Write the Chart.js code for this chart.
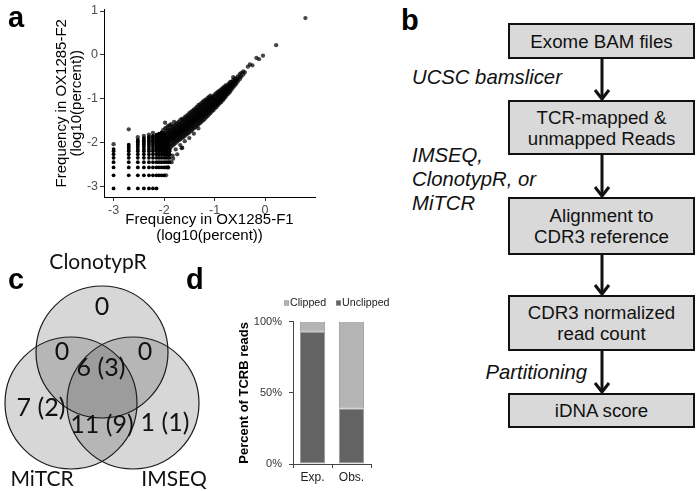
<!DOCTYPE html>
<html><head><meta charset="utf-8">
<script src="https://cdn.jsdelivr.net/npm/chart.js@4"></script>
<style>
html,body{margin:0;padding:0;background:#fff;width:697px;height:491px;overflow:hidden;font-family:"Liberation Sans",Arial,sans-serif;color:#111;}
canvas{position:absolute;}
.lbl{position:absolute;font-weight:bold;font-size:29px;line-height:1;color:#000;}
.box{position:absolute;box-sizing:border-box;border:2.5px solid #111;background:#d9d9d9;display:flex;align-items:center;justify-content:center;text-align:center;font-size:18.7px;line-height:21px;color:#111;}
.it{position:absolute;font-style:italic;font-size:20.3px;line-height:24px;color:#111;white-space:nowrap;}
</style></head>
<body>
<canvas id="ca" width="335" height="250" style="left:0;top:0"></canvas>
<canvas id="cc" width="230" height="241" style="left:0;top:250px"></canvas>
<canvas id="cd" width="200" height="241" style="left:200px;top:250px"></canvas>

<div class="lbl" style="left:8px;top:3px">a</div>
<div class="lbl" style="left:401px;top:6px">b</div>
<div class="lbl" style="left:8px;top:265px">c</div>
<div class="lbl" style="left:186px;top:265px">d</div>

<div id="flow"></div>
<svg style="position:absolute;left:390px;top:0" width="307" height="491">
  <g id="arrows" stroke="#111" stroke-width="3" fill="none" stroke-linecap="butt"></g>
</svg>

<script>
// ---------------- Panel a data (log10 percent) ----------------
const latticeF1 = [-3.00, -2.70, -2.52, -2.40, -2.30, -2.22, -2.15, -2.10, -2.05, -2.00, -1.96, -1.92, -1.89];
const latticeF2 = [
  [-3.05,-2.75,-2.57,-2.45,-2.35,-2.27,-2.20,-2.15],
  [-3.05,-2.75,-2.57,-2.45,-2.35,-2.27,-2.20,-2.15,-2.10,-2.05],
  [-3.05,-2.75,-2.57,-2.45,-2.35,-2.27,-2.20,-2.15,-2.10,-2.05,-2.01,-1.97,-1.94],
  [-3.05,-2.75,-2.57,-2.45,-2.35,-2.27,-2.20,-2.15,-2.10,-2.05,-2.01,-1.97,-1.94,-1.90],
  [-3.05,-2.75,-2.57,-2.45,-2.35,-2.27,-2.20,-2.15,-2.10,-2.05,-2.01,-1.97,-1.94,-1.90,-1.87],
  [-3.05,-2.75,-2.57,-2.45,-2.35,-2.27,-2.20,-2.15,-2.10,-2.05,-2.01,-1.97,-1.94,-1.90,-1.87,-1.85],
  [-3.05,-2.75,-2.57,-2.45,-2.35,-2.27,-2.20,-2.15,-2.10,-2.05,-2.01,-1.97,-1.94,-1.90,-1.87,-1.85,-1.82],
  [-2.75,-2.57,-2.45,-2.35,-2.27,-2.20,-2.15,-2.10,-2.05,-2.01,-1.97,-1.94,-1.90,-1.87,-1.85,-1.82,-1.80],
  [-2.75,-2.57,-2.45,-2.35,-2.27,-2.20,-2.15,-2.10,-2.05,-2.01,-1.97,-1.94,-1.90,-1.87,-1.85,-1.82,-1.80,-1.77],
  [-2.75,-2.57,-2.45,-2.35,-2.27,-2.20,-2.15,-2.10,-2.05,-2.01,-1.97,-1.94,-1.90,-1.87,-1.85,-1.82],
  [-2.57,-2.45,-2.35,-2.27,-2.20,-2.15,-2.10,-2.05,-2.01,-1.97,-1.94,-1.90],
  [-2.57,-2.45,-2.35,-2.27,-2.20,-2.15,-2.10,-2.05],
  [-2.45,-2.35,-2.27,-2.20,-2.15]
];
const sparseF1 = [-3.00, -2.70, -2.52, -2.40, -2.30, -2.22, -1.96, -1.92, -1.85, -1.82, -1.64];
const sparseF2 = [-2.04, -1.70, -1.88, -1.85, -1.82, -1.78, -2.75, -2.57, -2.45, -2.37, -2.12];
const cloudF1 = [
  -2.02,-1.98,-1.95,-1.92,-1.89,-1.86,-1.83,-1.80,-1.77,-1.74,
  -1.71,-1.68,-1.65,-1.62,-1.59,-1.56,-1.53,-1.50,-1.47,-1.44,
  -1.41,-1.38,-1.35,-1.32,-1.29,-1.26,-1.23,-1.20,-1.17,-1.14,
  -1.11,-1.08,-1.05,-1.02,-0.99,-0.96,-0.93,-0.90,-0.87,-0.84,
  -0.81,-0.78,-0.75,-0.72,-0.69,-0.66,-0.63,-0.60,-0.57,-0.54,
  -0.50,-0.47,-0.43,-0.40,-0.34,-0.30,-0.25,-0.17,-0.12,-0.04,
  0.22,0.80];
const cloudF2 = [
  [-2.22,-2.12,-2.05,-1.99,-1.93,-1.87,-1.80,-1.72],
  [-2.18,-2.08,-2.01,-1.96,-1.91,-1.85,-1.78,-1.68,-1.55],
  [-2.25,-2.14,-2.04,-1.98,-1.93,-1.88,-1.82,-1.75,-1.66],
  [-2.20,-2.09,-2.00,-1.95,-1.90,-1.85,-1.79,-1.72,-1.62],
  [-2.15,-2.06,-1.98,-1.93,-1.88,-1.83,-1.77,-1.70,-1.61],
  [-2.10,-2.02,-1.95,-1.90,-1.85,-1.80,-1.74,-1.67,-1.58],
  [-2.30,-2.07,-1.99,-1.92,-1.87,-1.82,-1.77,-1.71,-1.64],
  [-2.04,-1.96,-1.90,-1.85,-1.80,-1.75,-1.69,-1.62,-1.53],
  [-2.16,-2.01,-1.93,-1.87,-1.82,-1.77,-1.72,-1.66,-1.59],
  [-2.27,-1.98,-1.90,-1.85,-1.80,-1.75,-1.70,-1.64,-1.56],
  [-1.95,-1.88,-1.82,-1.77,-1.72,-1.67,-1.61,-1.53],
  [-2.06,-1.93,-1.85,-1.79,-1.74,-1.69,-1.64,-1.58,-1.49],
  [-2.13,-1.90,-1.82,-1.76,-1.71,-1.66,-1.61,-1.55,-1.46],
  [-1.88,-1.80,-1.74,-1.69,-1.64,-1.59,-1.53,-1.47],
  [-1.97,-1.85,-1.77,-1.71,-1.66,-1.61,-1.56,-1.50,-1.42],
  [-1.82,-1.74,-1.68,-1.63,-1.58,-1.53,-1.47,-1.40],
  [-1.80,-1.72,-1.66,-1.61,-1.56,-1.50,-1.44,-1.37],
  [-1.90,-1.77,-1.69,-1.63,-1.58,-1.53,-1.47,-1.41,-1.33],
  [-1.74,-1.66,-1.60,-1.55,-1.50,-1.44,-1.38,-1.31],
  [-1.71,-1.63,-1.57,-1.52,-1.47,-1.41,-1.35,-1.28],
  [-1.80,-1.68,-1.60,-1.54,-1.49,-1.44,-1.38,-1.32,-1.25],
  [-1.65,-1.57,-1.51,-1.46,-1.41,-1.35,-1.29,-1.22],
  [-1.62,-1.54,-1.48,-1.43,-1.38,-1.32,-1.26,-1.19],
  [-1.68,-1.59,-1.51,-1.45,-1.40,-1.35,-1.29,-1.23,-1.15],
  [-1.56,-1.48,-1.42,-1.37,-1.32,-1.26,-1.20,-1.13],
  [-1.53,-1.45,-1.39,-1.34,-1.29,-1.23,-1.17,-1.10],
  [-1.50,-1.42,-1.36,-1.31,-1.26,-1.20,-1.14,-1.07],
  [-1.47,-1.39,-1.33,-1.28,-1.23,-1.17,-1.11,-1.04],
  [-1.43,-1.36,-1.30,-1.25,-1.20,-1.14,-1.08,-1.02],
  [-1.40,-1.33,-1.27,-1.22,-1.17,-1.11,-1.05,-0.99],
  [-1.36,-1.30,-1.24,-1.19,-1.14,-1.08,-1.02,-0.96],
  [-1.33,-1.27,-1.21,-1.16,-1.11,-1.05,-0.99,-0.93],
  [-1.29,-1.23,-1.18,-1.13,-1.08,-1.02,-0.97],
  [-1.26,-1.20,-1.15,-1.10,-1.05,-0.99,-0.94],
  [-1.22,-1.17,-1.12,-1.07,-1.02,-0.96,-0.90],
  [-1.19,-1.14,-1.09,-1.04,-0.99,-0.93,-0.87],
  [-1.15,-1.10,-1.05,-1.00,-0.95,-0.90,-0.84],
  [-1.11,-1.06,-1.02,-0.97,-0.92,-0.87,-0.82],
  [-1.08,-1.03,-0.99,-0.94,-0.89,-0.84,-0.79],
  [-1.04,-1.00,-0.96,-0.91,-0.86,-0.81,-0.76],
  [-1.00,-0.96,-0.92,-0.88,-0.83,-0.78,-0.73],
  [-0.96,-0.92,-0.88,-0.84,-0.80,-0.75,-0.70],
  [-0.91,-0.87,-0.83,-0.79,-0.75,-0.70],
  [-0.88,-0.83,-0.79,-0.75,-0.71,-0.66],
  [-0.84,-0.79,-0.75,-0.71,-0.67,-0.62],
  [-0.79,-0.74,-0.70,-0.66,-0.61],
  [-0.74,-0.69,-0.64,-0.58,-0.51],
  [-0.70,-0.65,-0.60,-0.55],
  [-0.66,-0.60,-0.54],
  [-0.61,-0.55,-0.49],
  [-0.56,-0.50,-0.44],
  [-0.50,-0.41],
  [-0.45,-0.38],
  [-0.40],
  [-0.27],
  [-0.22],
  [-0.24],
  [-0.07],
  [-0.10],
  [-0.02],
  [0.22],
  [0.84]
];

// ---------------- Panel b text ----------------
const flowSteps = ['Exome BAM files', 'TCR-mapped &\nunmapped Reads', 'Alignment to\nCDR3 reference', 'CDR3 normalized\nread count', 'iDNA score'];
const flowTools = ['UCSC bamslicer', 'IMSEQ,\nClonotypR, or\nMiTCR', '', 'Partitioning'];

// ---------------- Panel c data ----------------
const vennSets = ['ClonotypR', 'MiTCR', 'IMSEQ'];
const vennRegionLabels = ['0', '0', '0', '6 (3)', '7 (2)', '11 (9)', '1 (1)'];

// ---------------- Panel d data ----------------
const readCategories = ['Exp.', 'Obs.'];
const unclippedPct = [93, 39];
const clippedPct = [7, 61];
const pctTicks = [0, 50, 100];

// ================= layout (not data) =================
const flowBoxes = [[23,36],[100,55],[197,58],[295,56],[393,35]]; // top, height (page px)
const toolPos = [{l:412,t:65},{l:412,t:143},null,{r:110,t:360}];
const vennBorder = 1.2;
const vennLayout = {circles:[[102,102],[71,153],[133,153]], r:66,
  setPos:[[98,12],[42,229],[174,229]],
  regionPos:[[102,57],[62,102],[145,102],[101,118],[41,158],[102,175],[165,173]]};
const VW=230, VH=241, OV=vennLayout.r+vennBorder; // chart.js pads the area by the bubble overflow

// ---- Panel b (HTML boxes + SVG arrows) ----
const flow = document.getElementById('flow');
flowSteps.forEach((s,i)=>{
  const d=document.createElement('div'); d.className='box';
  d.style.left='508px'; d.style.width='187px';
  d.style.top=flowBoxes[i][0]+'px'; d.style.height=flowBoxes[i][1]+'px';
  d.innerHTML=s.split('\n').join('<br>'); flow.appendChild(d);
});
flowTools.forEach((t,i)=>{
  if(!t) return; const p=toolPos[i];
  const d=document.createElement('div'); d.className='it';
  if(p.l!==undefined) d.style.left=p.l+'px'; else {d.style.right=p.r+'px'; d.style.textAlign='right';}
  d.style.top=p.t+'px'; d.innerHTML=t.split('\n').join('<br>'); flow.appendChild(d);
});
const ag=document.getElementById('arrows');
for(let i=0;i<flowBoxes.length-1;i++){
  const y0=flowBoxes[i][0]+flowBoxes[i][1], y1=flowBoxes[i+1][0]-1, x=212;
  ag.innerHTML += `<line x1="${x}" y1="${y0}" x2="${x}" y2="${y1}"/><polyline points="${x-7},${y1-9} ${x},${y1} ${x+7},${y1-9}" stroke-linejoin="miter"/>`;
}

// ---- Panel a ----
const lattice=[]; latticeF1.forEach((x,i)=>latticeF2[i].forEach(y=>lattice.push({x,y})));
const cloud=[]; cloudF1.forEach((x,i)=>cloudF2[i].forEach(y=>cloud.push({x,y})));
sparseF1.forEach((x,i)=>cloud.push({x,y:sparseF2[i]}));
const base={responsive:false,animation:false,events:[],plugins:{legend:{display:false},tooltip:{enabled:false}}};
new Chart(document.getElementById('ca'),{
  type:'scatter',
  data:{datasets:[
    {data:lattice,pointRadius:1.9,backgroundColor:'#000',borderWidth:0,clip:false},
    {data:cloud,pointRadius:2.15,backgroundColor:'rgba(0,0,0,0.72)',borderWidth:0,clip:false}
  ]},
  options:{...base,
    layout:{padding:{left:0,right:20,top:5,bottom:0}},
    scales:{
      x:{type:'linear',min:-3.19,max:0.99,
        ticks:{stepSize:1,includeBounds:false,color:'#4d4d4d',font:{size:12.5,family:'"Liberation Sans", Arial'},padding:2},
        grid:{drawOnChartArea:false,tickLength:4,color:'#333'},
        border:{color:'#000',width:1},
        title:{display:true,text:['Frequency in OX1285-F1','(log10(percent))'],color:'#000',font:{size:15,lineHeight:1.07,family:'"Liberation Sans", Arial'},padding:{top:0,bottom:6}},
        afterFit(s){s.height=53;}},
      y:{type:'linear',min:-3.245,max:1.035,
        ticks:{stepSize:1,includeBounds:false,color:'#4d4d4d',font:{size:12.5,family:'"Liberation Sans", Arial'},padding:2},
        grid:{drawOnChartArea:false,tickLength:4,color:'#333'},
        border:{color:'#000',width:1},
        title:{display:true,text:['Frequency in OX1285-F2','(log10(percent))'],color:'#000',font:{size:15,lineHeight:1.0,family:'"Liberation Sans", Arial'},padding:{top:54,bottom:0}},
        afterFit(s){s.width=104;}}
    }}
});

// ---- Panel c (Venn via bubbles) ----
const vennText={id:'vennText',afterDatasetsDraw(chart){
  const {ctx,scales:{x,y}}=chart; ctx.save(); ctx.fillStyle='#111'; ctx.textAlign='center'; ctx.textBaseline='middle';
  ctx.font='21px Lato, "Open Sans", sans-serif';
  vennSets.forEach((s,i)=>{const p=vennLayout.setPos[i]; ctx.fillText(s,x.getPixelForValue(p[0]),y.getPixelForValue(p[1]));});
  ctx.font='25px Lato, "Open Sans", sans-serif';
  vennRegionLabels.forEach((s,i)=>{const p=vennLayout.regionPos[i]; ctx.fillText(s,x.getPixelForValue(p[0]),y.getPixelForValue(p[1]));});
  ctx.restore();}};
new Chart(document.getElementById('cc'),{
  type:'bubble',
  data:{datasets:vennSets.map((s,i)=>({label:s,clip:false,
    data:[{x:vennLayout.circles[i][0],y:vennLayout.circles[i][1],r:vennLayout.r}],
    backgroundColor:'rgba(40,40,40,0.19)',borderColor:'#1a1a1a',borderWidth:vennBorder}))},
  options:{...base,layout:{padding:0},
    scales:{x:{display:false,min:OV,max:VW-OV},y:{display:false,min:OV,max:VH-OV,reverse:true}}},
  plugins:[vennText]
});

// ---- Panel d ----
const dLegend={id:'dLegend',afterDraw(chart){
  const ctx=chart.ctx; ctx.save(); ctx.font='10.7px "Liberation Sans", Arial'; ctx.textBaseline='middle'; ctx.textAlign='left';
  [[1,84],[0,136]].forEach(([di,x])=>{const d=chart.data.datasets[di];
    ctx.fillStyle=d.backgroundColor; ctx.fillRect(x,50.5,5,5);
    ctx.strokeStyle=d.borderColor; ctx.lineWidth=0.5; ctx.strokeRect(x+0.25,50.75,4.5,4.5);
    ctx.fillStyle='#222'; ctx.fillText(d.label,x+6,53.5);});
  ctx.restore();}};
new Chart(document.getElementById('cd'),{
  type:'bar',
  data:{labels:readCategories,datasets:[
    {label:'Unclipped',data:unclippedPct,backgroundColor:'#636363',borderColor:'#9a9a9a',borderWidth:1,borderSkipped:false,barPercentage:0.9,categoryPercentage:0.72},
    {label:'Clipped',data:clippedPct,backgroundColor:'#b4b4b4',borderColor:'#9a9a9a',borderWidth:1,borderSkipped:false,barPercentage:0.9,categoryPercentage:0.72}
  ]},
  options:{...base,
    layout:{padding:{left:0,right:29,top:71.7,bottom:0}},
    scales:{
      x:{stacked:true,
        ticks:{color:'#222',font:{size:12,family:'"Liberation Sans", Arial'},padding:2},
        grid:{drawOnChartArea:false,tickLength:4,color:'#444',offset:true},
        border:{color:'#444',width:1},
        afterFit(s){s.height=27;}},
      y:{stacked:true,min:0,max:100,
        afterBuildTicks(s){s.ticks=pctTicks.map(v=>({value:v}));},
        ticks:{color:'#333',font:{size:11,family:'"Liberation Sans", Arial'},padding:7,callback:v=>v+'%'},
        grid:{drawOnChartArea:false,tickLength:4,color:'#444'},
        border:{color:'#444',width:1},
        title:{display:true,text:'Percent of TCRB reads',color:'#000',font:{size:13,weight:'bold',family:'"Liberation Sans", Arial'},padding:{top:37,bottom:0}},
        afterFit(s){s.width=93;}}
    }},
  plugins:[dLegend]
});
</script>
</body></html>
